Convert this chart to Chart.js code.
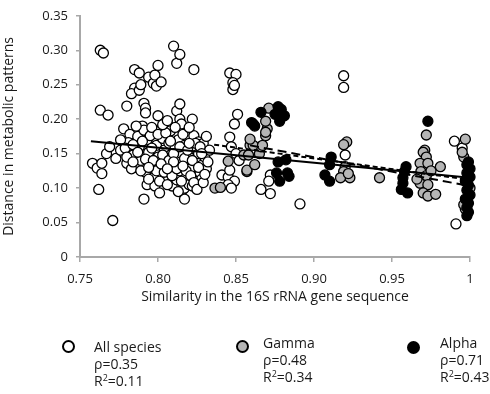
<!DOCTYPE html>
<html>
<head>
<meta charset="utf-8">
<script src="https://cdn.jsdelivr.net/npm/chart.js@4"></script>
<style>
  html, body { margin: 0; padding: 0; background: #fff; }
  #wrap { position: relative; width: 490px; height: 394px; font-family: "Open Sans", sans-serif; color: #1a1a1a; }
  #plot { position: absolute; left: 0; top: 0; }
  .key { position: absolute; font-size: 14px; line-height: 17px; white-space: nowrap; }
  .dot { position: absolute; width: 9px; height: 9px; border: 2px solid #000; border-radius: 50%; }
  .sup { font-size: 9px; position: relative; top: -5px; }
</style>
</head>
<body>
<div id="wrap">
  <canvas id="plot" width="490" height="394"></canvas>
  <div class="dot" style="left:62px;top:340px;background:#fff"></div>
  <div class="key" style="left:94px;top:338px">All species<br>ρ=0.35<br>R<span class="sup">2</span>=0.11</div>
  <div class="dot" style="left:236px;top:340px;background:#b5b5b5"></div>
  <div class="key" style="left:263px;top:334px">Gamma<br>ρ=0.48<br>R<span class="sup">2</span>=0.34</div>
  <div class="dot" style="left:407px;top:341px;background:#000"></div>
  <div class="key" style="left:440px;top:334px">Alpha<br>ρ=0.71<br>R<span class="sup">2</span>=0.43</div>
</div>
<script>
(() => {
    'use strict';

    const xTickLabels = ['0.75', '0.80', '0.85', '0.90', '0.95', '1'];
    const yTickLabels = ['0', '0.05', '0.10', '0.15', '0.20', '0.25', '0.30', '0.35'];

    // [similarity, distance]
    const allSpecies = [
        [0.758, 0.136], [0.761, 0.129], [0.764, 0.136], [0.764, 0.121], [0.762, 0.098], [0.763, 0.300],
        [0.765, 0.296], [0.763, 0.213], [0.768, 0.206], [0.767, 0.150], [0.771, 0.053], [0.769, 0.160],
        [0.773, 0.143], [0.776, 0.155], [0.778, 0.186], [0.780, 0.219], [0.780, 0.136], [0.782, 0.178],
        [0.781, 0.166], [0.784, 0.148], [0.785, 0.272], [0.786, 0.130], [0.785, 0.245], [0.783, 0.237],
        [0.787, 0.175], [0.788, 0.267], [0.788, 0.242], [0.789, 0.250], [0.788, 0.160], [0.789, 0.140],
        [0.790, 0.190], [0.791, 0.184], [0.791, 0.223], [0.792, 0.216], [0.792, 0.209], [0.791, 0.084],
        [0.793, 0.105], [0.792, 0.123], [0.794, 0.261], [0.793, 0.170], [0.794, 0.152], [0.795, 0.135],
        [0.795, 0.176], [0.797, 0.252], [0.798, 0.264], [0.797, 0.115], [0.798, 0.103], [0.799, 0.248],
        [0.800, 0.278], [0.800, 0.205], [0.799, 0.162], [0.800, 0.145], [0.801, 0.093], [0.801, 0.128],
        [0.802, 0.254], [0.802, 0.185], [0.803, 0.172], [0.804, 0.155], [0.805, 0.138], [0.805, 0.118],
        [0.806, 0.194], [0.807, 0.165], [0.808, 0.148], [0.809, 0.103], [0.809, 0.130], [0.810, 0.306],
        [0.808, 0.183], [0.812, 0.212], [0.811, 0.158], [0.812, 0.281], [0.812, 0.140], [0.812, 0.112],
        [0.813, 0.170], [0.814, 0.294], [0.814, 0.222], [0.814, 0.190], [0.814, 0.125], [0.814, 0.200],
        [0.815, 0.193], [0.815, 0.150], [0.816, 0.098], [0.817, 0.084], [0.817, 0.100], [0.817, 0.162],
        [0.818, 0.135], [0.818, 0.115], [0.819, 0.175], [0.820, 0.145], [0.820, 0.105], [0.821, 0.128],
        [0.822, 0.200], [0.823, 0.176], [0.822, 0.103], [0.823, 0.272], [0.823, 0.158], [0.824, 0.140],
        [0.825, 0.118], [0.826, 0.167], [0.826, 0.150], [0.827, 0.122], [0.828, 0.113], [0.828, 0.133],
        [0.829, 0.165], [0.830, 0.145], [0.831, 0.128], [0.833, 0.155], [0.776, 0.170], [0.779, 0.158],
        [0.780, 0.145], [0.783, 0.128], [0.784, 0.163], [0.786, 0.190], [0.787, 0.152], [0.789, 0.125],
        [0.790, 0.168], [0.792, 0.142], [0.794, 0.113], [0.796, 0.188], [0.796, 0.158], [0.797, 0.140],
        [0.799, 0.125], [0.800, 0.178], [0.801, 0.110], [0.803, 0.148], [0.804, 0.123], [0.805, 0.180],
        [0.806, 0.105], [0.807, 0.140], [0.808, 0.168], [0.809, 0.118], [0.810, 0.150], [0.811, 0.188],
        [0.812, 0.128], [0.813, 0.095], [0.814, 0.160], [0.815, 0.110], [0.816, 0.178], [0.817, 0.143],
        [0.818, 0.125], [0.819, 0.155], [0.820, 0.188], [0.821, 0.118], [0.822, 0.140], [0.823, 0.108],
        [0.824, 0.165], [0.825, 0.098], [0.826, 0.130], [0.827, 0.160], [0.829, 0.108], [0.830, 0.120],
        [0.831, 0.175], [0.832, 0.138], [0.803, 0.192], [0.806, 0.198], [0.784, 0.138], [0.802, 0.135],
        [0.810, 0.138], [0.816, 0.132], [0.806, 0.128], [0.794, 0.130], [0.820, 0.165], [0.828, 0.150],
        [0.841, 0.119], [0.845, 0.116], [0.846, 0.126], [0.849, 0.110], [0.845, 0.105], [0.847, 0.100],
        [0.846, 0.267], [0.850, 0.265], [0.848, 0.253], [0.848, 0.243], [0.849, 0.249], [0.851, 0.207],
        [0.849, 0.193], [0.846, 0.174], [0.847, 0.160], [0.850, 0.150], [0.852, 0.140],
        [0.872, 0.119], [0.871, 0.110], [0.866, 0.098], [0.872, 0.092], [0.891, 0.077],
        [0.919, 0.263], [0.919, 0.246], [0.920, 0.148],
        [0.990, 0.168], [0.995, 0.158], [0.991, 0.048]
    ];

    const gamma = [
        [0.8365, 0.100], [0.840, 0.101], [0.845, 0.139], [0.857, 0.124], [0.857, 0.126], [0.862, 0.134],
        [0.855, 0.148], [0.859, 0.162], [0.858, 0.148], [0.865, 0.150], [0.866, 0.160], [0.861, 0.162],
        [0.859, 0.171], [0.869, 0.176], [0.861, 0.193], [0.870, 0.186], [0.869, 0.197], [0.871, 0.216],
        [0.867, 0.162], [0.869, 0.181],
        [0.921, 0.167], [0.919, 0.163], [0.920, 0.131], [0.919, 0.124], [0.923, 0.115], [0.917, 0.115],
        [0.922, 0.121], [0.942, 0.115],
        [0.972, 0.177], [0.971, 0.155], [0.970, 0.152], [0.972, 0.145], [0.968, 0.136], [0.973, 0.136],
        [0.981, 0.131], [0.9685, 0.124], [0.972, 0.118], [0.968, 0.107], [0.973, 0.105], [0.970, 0.093],
        [0.973, 0.0885], [0.978, 0.091], [0.966, 0.113], [0.975, 0.125],
        [0.997, 0.171], [0.996, 0.145], [0.995, 0.152], [0.997, 0.0695], [0.996, 0.076], [1.0, 0.100]
    ];

    const alpha = [
        [0.860, 0.195], [0.862, 0.190], [0.866, 0.210], [0.877, 0.218], [0.879, 0.214], [0.875, 0.207],
        [0.878, 0.197], [0.881, 0.205], [0.877, 0.138], [0.882, 0.141], [0.876, 0.122], [0.883, 0.122],
        [0.878, 0.110], [0.884, 0.117],
        [0.911, 0.145], [0.910, 0.134], [0.907, 0.119], [0.910, 0.110],
        [0.958, 0.124], [0.957, 0.115], [0.957, 0.107], [0.956, 0.098], [0.960, 0.093], [0.959, 0.131],
        [0.973, 0.197],
        [0.998, 0.134], [1.0, 0.128], [0.998, 0.122], [1.0, 0.116], [0.997, 0.110], [0.999, 0.104],
        [0.998, 0.097], [1.0, 0.090], [0.997, 0.084], [0.999, 0.078], [0.998, 0.072], [0.999, 0.065],
        [0.998, 0.060], [0.999, 0.138]
    ];

    // regression lines: [x, y] end points
    const fitAll = [[0.757, 0.168], [1.0, 0.115]];
    const fitGamma = [[0.836, 0.163], [1.0, 0.112]];
    const fitAlpha = [[0.859, 0.162], [1.0, 0.103]];

    const axisGray = '#a8a8a8';
    const toXY = rows => rows.map(([x, y]) => ({ x, y }));

    const points = (label, rows, fill, order) => ({
        type: 'scatter', label, data: toXY(rows), order,
        backgroundColor: fill, borderColor: '#000', borderWidth: 1.3,
        pointRadius: 5, pointHoverRadius: 5
    });
    const fit = (label, rows, dash) => ({
        type: 'line', label, data: toXY(rows), order: 0,
        borderColor: '#000', borderWidth: 2, borderDash: dash,
        pointRadius: 0, fill: false, tension: 0
    });

    new Chart(document.getElementById('plot'), {
        type: 'scatter',
        data: {
            datasets: [
                fit('All species fit', fitAll, []),
                fit('Gamma fit', fitGamma, [5, 3]),
                fit('Alpha fit', fitAlpha, [9, 5]),
                points('Alpha', alpha, '#000', 1),
                points('Gamma', gamma, '#b5b5b5', 2),
                points('All species', allSpecies, '#fff', 3)
            ]
        },
        options: {
            responsive: false,
            animation: false,
            clip: false,
            layout: { padding: { top: 11, right: 20, bottom: 80, left: 0 } },
            plugins: { legend: { display: false }, tooltip: { enabled: false } },
            scales: {
                x: {
                    type: 'linear', min: 0.75, max: 1.0,
                    afterFit: s => { s.height = 57; },
                    border: { color: axisGray, width: 2 },
                    grid: { drawOnChartArea: false, tickLength: 5, color: axisGray, lineWidth: 1.5 },
                    ticks: {
                        stepSize: 0.05, padding: 9, color: '#1a1a1a',
                        font: { family: 'Open Sans', size: 13 },
                        callback: (v, i) => xTickLabels[i]
                    },
                    title: {
                        display: true, text: 'Similarity in the 16S rRNA gene sequence', color: '#1a1a1a',
                        font: { family: 'Open Sans', size: 14 }, padding: { top: 0, bottom: 9 }
                    }
                },
                y: {
                    min: 0, max: 0.35,
                    afterFit: s => { s.width = 80; },
                    border: { color: axisGray, width: 2 },
                    grid: { drawOnChartArea: false, tickLength: 4, color: axisGray, lineWidth: 1.5 },
                    ticks: {
                        stepSize: 0.05, padding: 8, color: '#1a1a1a',
                        font: { family: 'Open Sans', size: 13 },
                        callback: (v, i) => yTickLabels[i]
                    },
                    title: {
                        display: true, text: 'Distance in metabolic patterns', color: '#1a1a1a',
                        font: { family: 'Open Sans', size: 14 }, padding: { top: 1, bottom: 0 }
                    }
                }
            }
        }
    });
})();
</script>
</body>
</html>
